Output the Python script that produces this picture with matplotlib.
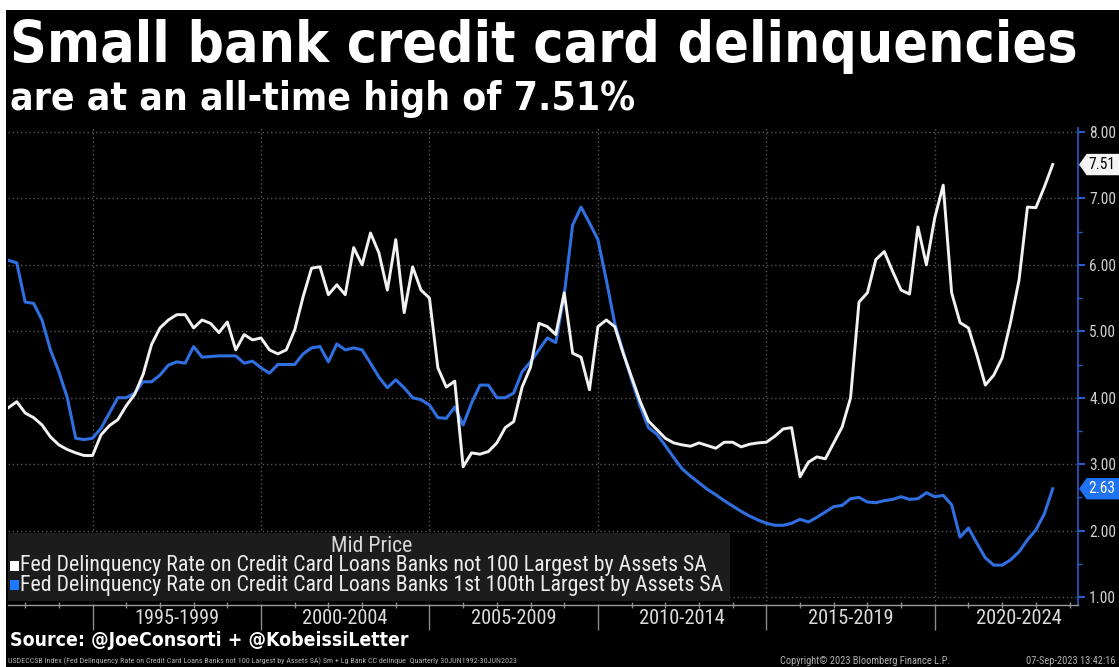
import numpy as np
import pandas as pd
import matplotlib
matplotlib.use("Agg")
import matplotlib.pyplot as plt
from matplotlib import font_manager
from matplotlib.patches import Rectangle, Polygon

# ---------------------------------------------------------------- data
# Quarterly delinquency rates (%), 30 Jun 1992 .. 30 Jun 2023
small_banks = [
    3.85, 3.94, 3.77, 3.70, 3.59, 3.41, 3.29, 3.22, 3.17, 3.13,
    3.13, 3.44, 3.58, 3.67, 3.88, 4.05, 4.35, 4.80, 5.05, 5.17,
    5.25, 5.25, 5.05, 5.17, 5.12, 4.98, 5.14, 4.72, 4.95, 4.87,
    4.90, 4.72, 4.66, 4.72, 5.02, 5.52, 5.95, 5.97, 5.55, 5.70,
    5.55, 6.26, 6.00, 6.48, 6.18, 5.62, 6.38, 5.28, 5.97, 5.62,
    5.50, 4.45, 4.16, 4.25, 2.96, 3.17, 3.15, 3.19, 3.32, 3.55,
    3.64, 4.16, 4.46, 5.12, 5.07, 4.95, 5.58, 4.67, 4.61, 4.12,
    5.07, 5.17, 5.07, 4.67, 4.31, 3.95, 3.65, 3.52, 3.39, 3.32,
    3.29, 3.27, 3.32, 3.28, 3.24, 3.33, 3.33, 3.26, 3.30, 3.32,
    3.33, 3.42, 3.53, 3.55, 2.81, 3.03, 3.11, 3.08, 3.32, 3.56,
    4.00, 5.44, 5.58, 6.08, 6.20, 5.90, 5.62, 5.56, 6.57, 6.00,
    6.71, 7.20, 5.58, 5.13, 5.05, 4.64, 4.19, 4.34, 4.60, 5.14,
    5.77, 6.87, 6.86, 7.17, 7.51,
]
large_banks = [
    6.07, 6.03, 5.44, 5.42, 5.17, 4.72, 4.39, 4.00, 3.39, 3.37,
    3.39, 3.54, 3.77, 4.00, 4.00, 4.07, 4.24, 4.24, 4.34, 4.49,
    4.54, 4.52, 4.77, 4.61, 4.62, 4.63, 4.63, 4.63, 4.52, 4.55,
    4.45, 4.37, 4.50, 4.50, 4.50, 4.66, 4.75, 4.77, 4.54, 4.81,
    4.72, 4.75, 4.72, 4.52, 4.31, 4.15, 4.27, 4.15, 4.00, 3.97,
    3.89, 3.70, 3.69, 3.86, 3.59, 3.92, 4.19, 4.19, 4.00, 4.00,
    4.07, 4.39, 4.54, 4.72, 4.90, 4.83, 5.55, 6.60, 6.87, 6.63,
    6.38, 5.77, 5.12, 4.69, 4.27, 3.88, 3.55, 3.45, 3.28, 3.10,
    2.93, 2.82, 2.72, 2.62, 2.54, 2.45, 2.37, 2.29, 2.22, 2.16,
    2.11, 2.08, 2.08, 2.11, 2.17, 2.13, 2.20, 2.28, 2.36, 2.38,
    2.48, 2.50, 2.43, 2.42, 2.45, 2.47, 2.51, 2.47, 2.48, 2.57,
    2.51, 2.53, 2.39, 1.90, 2.04, 1.81, 1.59, 1.48, 1.48, 1.56,
    1.68, 1.86, 2.01, 2.25, 2.63,
]
period_starts = [1995, 2000, 2005, 2010, 2015, 2020]
period_labels = ["1995-1999", "2000-2004", "2005-2009",
                 "2010-2014", "2015-2019", "2020-2024"]
y_ticks = [1, 2, 3, 4, 5, 6, 7, 8]

title = "Small bank credit card delinquencies"
subtitle = "are at an all-time high of 7.51%"
legend_head = "Mid Price"
legend_small = "Fed Delinquency Rate on Credit Card Loans Banks not 100 Largest by Assets SA"
legend_large = "Fed Delinquency Rate on Credit Card Loans Banks 1st 100th Largest by Assets SA"
source = "Source: @JoeConsorti + @KobeissiLetter"
footnote = ("USDECCSB Index (Fed Delinquency Rate on Credit Card Loans Banks not 100 "
            "Largest by Assets SA) Sm + Lg Bank CC delinque  Quarterly 30JUN1992-30JUN2023")
copyright_txt = "Copyright\u00a9 2023 Bloomberg Finance L.P."
stamp = "07-Sep-2023 13:42:16"

quarters = pd.period_range("1992Q2", "2023Q2", freq="Q")
x = np.array([q.year + q.quarter / 4.0 for q in quarters])

# ---------------------------------------------------------------- style
W, H = 1119, 667
WHITE_LINE = "#f2f2f2"
BLUE_LINE = "#2f6fe0"
BLUE_AXIS = "#2a5cc8"
GRID = "#555555"
TICK_TXT = "#cfcfcf"

names = {f.name for f in font_manager.fontManager.ttflist}
NARROW = next((n for n in ["Liberation Sans Narrow", "Roboto Condensed"] if n in names),
              "DejaVu Sans")
WIDE = "DejaVu Sans"

fig = plt.figure(figsize=(W / 100, H / 100), dpi=100, facecolor="black")
renderer = fig.canvas.get_renderer()


def fx(px):
    return px / W


def fy(py):
    return 1 - py / H


def fit(txt, width_px):
    w = txt.get_window_extent(renderer).width
    txt.set_fontsize(txt.get_fontsize() * width_px / w)
    return txt


# white frame along the top and left edges
fig.patches.append(Rectangle((0, fy(10)), 1, 10 / H, transform=fig.transFigure,
                             facecolor="white", edgecolor="none", zorder=0))
fig.patches.append(Rectangle((0, 0), fx(6), 1, transform=fig.transFigure,
                             facecolor="white", edgecolor="none", zorder=0))

# ---------------------------------------------------------------- axes
L, R, T, B = 8, 1078, 128, 605
ax = fig.add_axes([fx(L), fy(B), fx(R - L), (B - T) / H])
ax.set_facecolor("black")

ax.plot(x, large_banks, color=BLUE_LINE, lw=2.2, solid_joinstyle="round", zorder=3)
ax.plot(x, small_banks, color=WHITE_LINE, lw=2.1, solid_joinstyle="round", zorder=4)

px_per_year = 33.7
ax.set_xlim(x[0] - 0.01, x[0] + (R - L) / px_per_year)
ax.set_ylim(0.88, 8.06)

for s in ["left", "top"]:
    ax.spines[s].set_visible(False)
ax.spines["right"].set_color(BLUE_AXIS)
ax.spines["right"].set_linewidth(1.2)
ax.spines["bottom"].set_color("#9a9a9a")
ax.spines["bottom"].set_linewidth(1.0)

ax.yaxis.tick_right()
ax.set_yticks(y_ticks)
ax.set_yticklabels([f"{v:.2f}" for v in y_ticks])
ax.set_yticks(np.arange(1.5, 8.0, 1.0), minor=True)
ax.tick_params(axis="y", which="major", colors=BLUE_AXIS, labelcolor=TICK_TXT,
               length=5, width=1.5, direction="out", pad=3)
ax.tick_params(axis="y", which="minor", colors=BLUE_AXIS, length=3, width=1,
               direction="out")

ax.set_xticks(period_starts)
ax.set_xticklabels([])
ax.set_xticks(np.arange(1993, 2025), minor=True)
ax.tick_params(axis="x", which="major", colors="#8a8a8a", length=18, width=1,
               direction="out")
ax.tick_params(axis="x", which="minor", colors="#8a8a8a", length=4, width=1,
               direction="inout")

ax.grid(True, which="major", color=GRID, linestyle=(0, (1, 2)), linewidth=1.0)
ax.set_axisbelow(True)

xt = ax.get_xaxis_transform()
for start, lab in zip(period_starts, period_labels):
    t = ax.text(start + 2.5, -14 / (B - T), lab, transform=xt, ha="center",
                va="center", color="#dcdcdc", fontsize=12, family=NARROW,
                fontstretch="condensed")
    fit(t, 85)

# y tick labels: sized so that the widest one ends just inside the edge
for lbl in ax.get_yticklabels():
    lbl.set_family(NARROW)
    lbl.set_fontstretch("condensed")
    lbl.set_fontsize(t.get_fontsize())
probe = fig.text(0, 0, "8.00", family=NARROW, fontstretch="condensed",
                 fontsize=t.get_fontsize())
fit(probe, 27)
tick_size = probe.get_fontsize()
probe.remove()
for lbl in ax.get_yticklabels():
    lbl.set_fontsize(tick_size)

# value tags on the right axis
yt = ax.get_yaxis_transform()


def tag(value, face, text_color):
    half = 10 / 66.4
    ax_x = lambda px: (px - L) / (R - L)
    poly = Polygon([(ax_x(1080), value), (ax_x(1087), value + half),
                    (ax_x(1125), value + half), (ax_x(1125), value - half),
                    (ax_x(1087), value - half)], closed=True, transform=yt,
                   facecolor=face, edgecolor=face, clip_on=False, zorder=6)
    ax.add_patch(poly)
    ax.text(ax_x(1088), value, f"{value:.2f}", transform=yt, ha="left",
            va="center", color=text_color, fontsize=tick_size,
            family=NARROW, fontstretch="condensed", clip_on=False, zorder=7)


tag(small_banks[-1], "#f4f4f4", "black")
tag(large_banks[-1], "#1f72f0", "white")

# ---------------------------------------------------------------- legend box
fig.patches.append(Rectangle((fx(8), fy(601)), fx(722), 68 / H,
                             transform=fig.transFigure, facecolor="#1c1c1c",
                             edgecolor="none", zorder=5))
head = fig.text(fx(372), fy(547), legend_head, ha="center", va="center",
                color="#d8d8d8", fontsize=12, family=NARROW,
                fontstretch="condensed", zorder=6)
fig.patches.append(Rectangle((fx(10), fy(571)), fx(9), 10 / H,
                             transform=fig.transFigure, facecolor="white",
                             edgecolor="none", zorder=6))
fig.patches.append(Rectangle((fx(10), fy(590)), fx(9), 10 / H,
                             transform=fig.transFigure, facecolor="#1e78ff",
                             edgecolor="none", zorder=6))
l1 = fig.text(fx(20), fy(566), legend_small, ha="left", va="center",
              color="#ececec", fontsize=12, family=NARROW,
              fontstretch="condensed", zorder=6)
fit(l1, 687)
l2 = fig.text(fx(20), fy(585), legend_large, ha="left", va="center",
              color="#ececec", fontsize=l1.get_fontsize(), family=NARROW,
              fontstretch="condensed", zorder=6)
head.set_fontsize(l1.get_fontsize())

# ---------------------------------------------------------------- titles
tt = fig.text(fx(10), fy(62), title, ha="left", va="baseline", color="white",
              fontsize=34, fontweight="bold", family=WIDE, fontstretch="condensed")
fit(tt, 1070)
st = fig.text(fx(10), fy(110), subtitle, ha="left", va="baseline", color="white",
              fontsize=20, fontweight="bold", family=WIDE, fontstretch="condensed")
fit(st, 626)

# ---------------------------------------------------------------- footer
sr = fig.text(fx(10), fy(641), source, ha="left", va="center", color="white",
              fontsize=13, fontweight="bold", family=WIDE, fontstretch="condensed")
fit(sr, 397)
fn = fig.text(fx(8), fy(661), footnote, ha="left", va="center", color="#b0b0b0",
              fontsize=5, family=NARROW, fontstretch="condensed")
fit(fn, 515)
cp = fig.text(fx(780), fy(661), copyright_txt, ha="left", va="center",
              color="#b0b0b0", fontsize=5, family=NARROW, fontstretch="condensed")
fit(cp, 173)
fig.text(fx(1116), fy(661), stamp, ha="right", va="center", color="#b0b0b0",
         fontsize=cp.get_fontsize(), family=NARROW, fontstretch="condensed")

fig.savefig("out.png", dpi=100, facecolor=fig.get_facecolor())
